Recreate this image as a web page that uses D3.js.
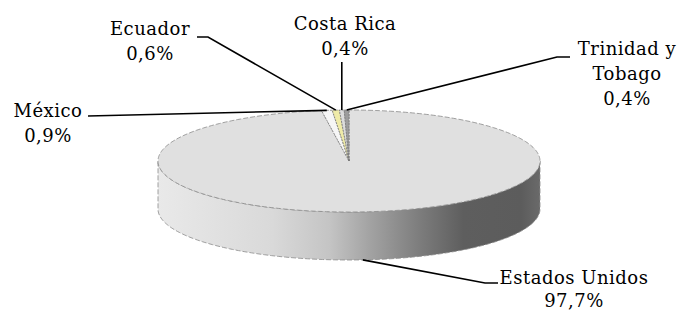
<!DOCTYPE html>
<html>
<head>
<meta charset="utf-8">
<style>
body { margin: 0; background: #fff; }
text { font-family: "DejaVu Serif", serif; font-size: 18px; fill: #000; letter-spacing: 0.5px; }
</style>
</head>
<body>
<svg width="686" height="312"></svg>
<script src="https://d3js.org/d3.v7.min.js"></script>
<script>

var countries = ["Estados Unidos", "México", "Ecuador", "Costa Rica", "Trinidad y Tobago"];
var shares = [97.7, 0.9, 0.6, 0.4, 0.4];
var labels = ["97,7%", "0,9%", "0,6%", "0,4%", "0,4%"];
var topColors = ["#e0e0e0", "#f6f6f6", "#efeba8", "#dcdcdc", "#9c9c9c"];

// label text lines, position and elbow of the leader line
var labelLayout = [
  {lines: ["Estados Unidos", "97,7%"], x: 574, y: 284, gap: 23, elbow: [[498, 283], [485, 283]], side: "bottom"},
  {lines: ["México", "0,9%"], x: 48, y: 117, gap: 25, elbow: [[88, 116]], side: "top"},
  {lines: ["Ecuador", "0,6%"], x: 150, y: 35, gap: 25, elbow: [[197, 37], [208, 37]], side: "top"},
  {lines: ["Costa Rica", "0,4%"], x: 345, y: 30, gap: 25, elbow: [[null, 62]], side: "top"},
  {lines: ["Trinidad y", "Tobago", "0,4%"], x: 627, y: 55, gap: 25, elbow: [[570, 57], [557, 57]], side: "top"}
];

var cx = 349, cy = 161, rx = 191, ry = 51, depth = 48;

var svg = d3.select("svg");

var defs = svg.append("defs");
var grad = defs.append("linearGradient")
    .attr("id", "side")
    .attr("gradientUnits", "userSpaceOnUse")
    .attr("x1", cx - rx).attr("x2", cx + rx).attr("y1", 0).attr("y2", 0);
[[0, "#e9e9e9"], [0.3, "#d9d9d9"], [0.45, "#c4c4c4"], [0.55, "#a4a4a4"],
 [0.68, "#7e7e7e"], [0.8, "#5e5e5e"], [0.95, "#5c5c5c"], [1, "#6a6a6a"]]
  .forEach(function(s) {
    grad.append("stop").attr("offset", s[0]).attr("stop-color", s[1]);
  });

var pie = d3.pie().sort(null).value(function(d) { return d; });
var arcs = pie(shares);

function pt(a, dy) {
  return [cx + rx * Math.sin(a), cy - ry * Math.cos(a) + (dy || 0)];
}

function arcPoints(a0, a1, dy) {
  var n = Math.max(2, Math.ceil(Math.abs(a1 - a0) / 0.02));
  var out = [];
  for (var i = 0; i <= n; i++) out.push(pt(a0 + (a1 - a0) * i / n, dy));
  return out;
}

var line = d3.line();

// outer side wall (front half only)
arcs.forEach(function(d) {
  var a0 = Math.max(d.startAngle, Math.PI / 2);
  var a1 = Math.min(d.endAngle, Math.PI * 1.5);
  if (a1 <= a0) return;
  var pts = arcPoints(a0, a1, 0).concat(arcPoints(a1, a0, depth));
  svg.append("path")
    .attr("d", line(pts) + "Z")
    .attr("fill", "url(#side)")
    .attr("stroke", "#8a8a8a")
    .attr("stroke-width", 0.8)
    .attr("stroke-dasharray", "5,2");
});

// top faces
arcs.forEach(function(d, i) {
  var pts = [[cx, cy]].concat(arcPoints(d.startAngle, d.endAngle, 0));
  svg.append("path")
    .attr("d", line(pts) + "Z")
    .attr("fill", topColors[i])
    .attr("stroke", i === 0 ? "#8a8a8a" : "#7a7a7a")
    .attr("stroke-width", 0.8)
    .attr("stroke-dasharray", i === 0 ? "5,2" : "2,1");
});

// leader lines and labels
arcs.forEach(function(d, i) {
  var L = labelLayout[i];
  var mid = (d.startAngle + d.endAngle) / 2;
  var anchor = pt(mid, L.side === "bottom" ? depth : 0);
  var pts = L.elbow.map(function(p) { return [p[0] === null ? anchor[0] : p[0], p[1]]; });
  pts.push(anchor);
  svg.append("path")
    .attr("d", line(pts))
    .attr("fill", "none")
    .attr("stroke", "#000")
    .attr("stroke-width", 1.6);

  var t = svg.append("text").attr("text-anchor", "middle");
  L.lines.forEach(function(s, k) {
    t.append("tspan").attr("x", L.x).attr("y", L.y + k * L.gap).text(s);
  });
});

</script>
</body>
</html>
